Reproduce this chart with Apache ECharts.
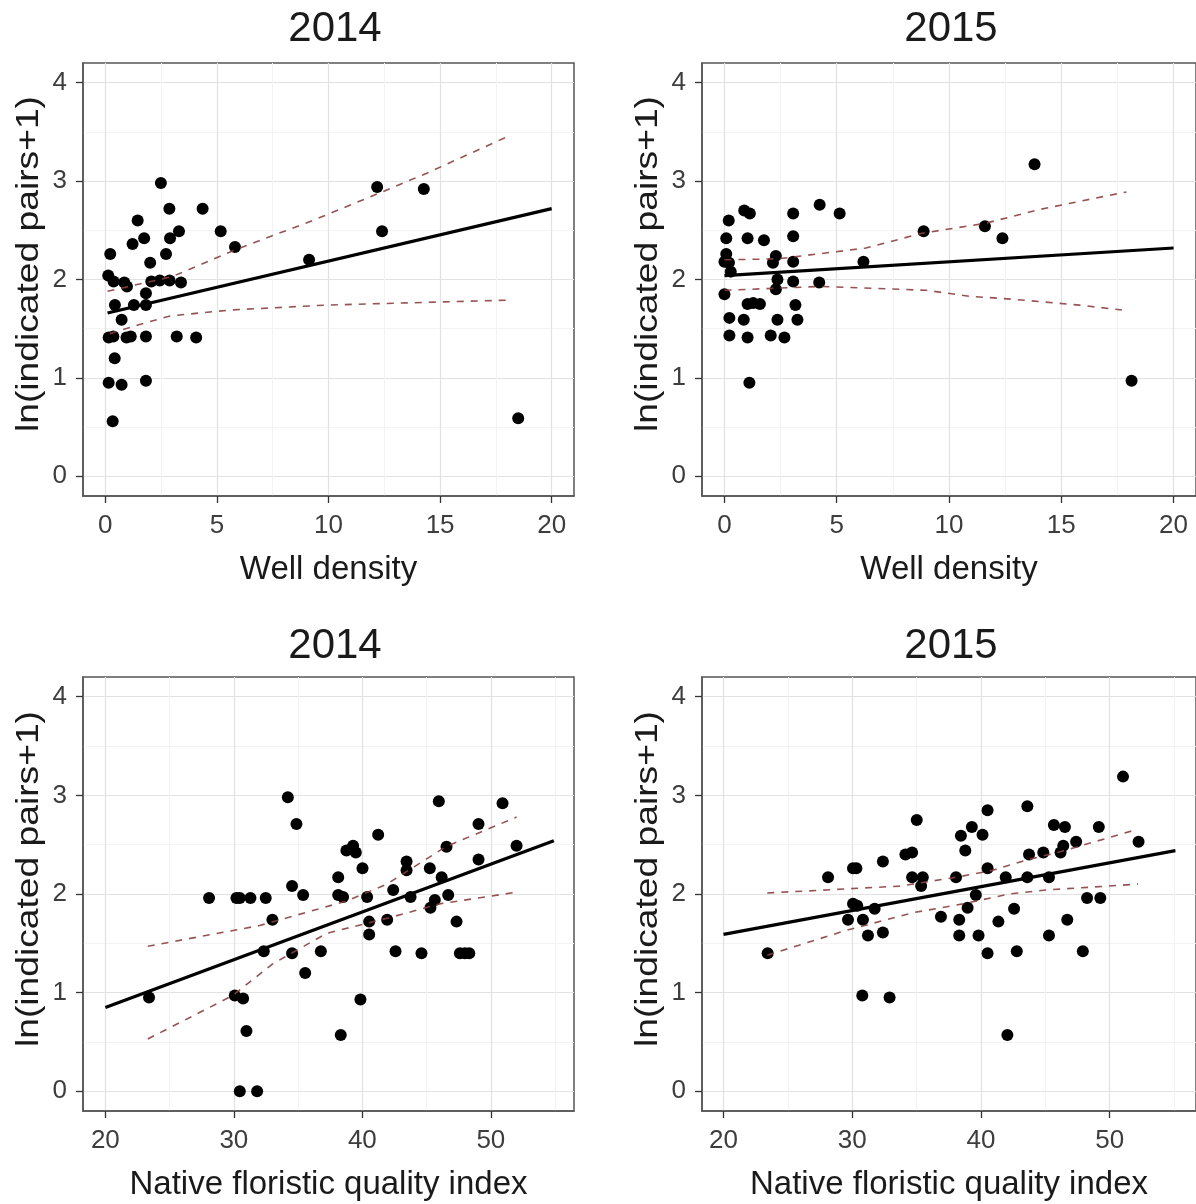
<!DOCTYPE html>
<html><head><meta charset="utf-8">
<script src="https://cdn.jsdelivr.net/npm/echarts@6/dist/echarts.min.js"></script>
<style>html,body{margin:0;padding:0;background:#fff}#c{width:1196px;height:1204px}</style>
</head><body><div id="c"></div>
<script>
// ---------- data ----------
const panelTitles = ['2014', '2015', '2014', '2015'];
const xAxisNames = ['Well density', 'Well density', 'Native floristic quality index', 'Native floristic quality index'];
const yAxisName = 'ln(indicated pairs+1)';
const wellTicks = [0, 5, 10, 15, 20];
const fqiTicks = [20, 30, 40, 50];
const yTicks = [0, 1, 2, 3, 4];

const well2014 = [[2.49,2.98],[1.45,2.60],[1.22,2.36],[1.74,2.42],[0.22,2.26],[2.87,2.72],[4.36,2.72],[2.90,2.42],[3.30,2.49],[5.17,2.49],[2.72,2.26],[5.81,2.33],[2.01,2.17],[0.13,2.04],[0.37,1.98],[0.85,1.97],[0.97,1.93],[2.06,1.98],[2.44,1.99],[2.88,1.99],[3.39,1.97],[1.82,1.86],[1.82,1.74],[0.43,1.74],[1.28,1.74],[0.73,1.59],[0.15,1.41],[0.36,1.42],[0.95,1.41],[1.14,1.42],[1.82,1.42],[3.20,1.42],[4.07,1.41],[0.42,1.20],[0.15,0.95],[0.73,0.93],[1.82,0.97],[0.33,0.56],[12.18,2.94],[14.27,2.92],[12.40,2.49],[9.13,2.20],[18.50,0.59]];
const well2015 = [[0.88,2.70],[1.13,2.67],[0.19,2.60],[3.06,2.67],[4.24,2.76],[5.13,2.67],[0.08,2.42],[1.03,2.42],[1.76,2.40],[3.06,2.44],[0.08,2.26],[0.0,2.18],[0.2,2.17],[2.29,2.24],[2.16,2.17],[3.06,2.18],[0.28,2.08],[2.36,2.00],[3.06,1.98],[4.22,1.97],[2.29,1.90],[0.0,1.85],[1.03,1.75],[1.28,1.76],[1.58,1.75],[3.16,1.74],[0.22,1.61],[0.86,1.59],[2.36,1.59],[3.25,1.59],[0.22,1.43],[1.03,1.41],[2.06,1.43],[2.67,1.41],[1.11,0.95],[6.19,2.18],[8.87,2.49],[11.60,2.54],[12.38,2.42],[13.81,3.17],[18.13,0.97]];
const fqi2014 = [[34.20,2.98],[34.87,2.71],[45.95,2.94],[50.91,2.92],[49.04,2.71],[41.23,2.60],[38.76,2.44],[39.28,2.49],[39.49,2.42],[46.55,2.48],[52.00,2.49],[49.04,2.35],[40.01,2.26],[43.44,2.33],[43.44,2.24],[45.25,2.26],[38.12,2.17],[46.17,2.17],[34.53,2.08],[28.07,1.96],[30.20,1.96],[30.46,1.96],[31.29,1.96],[32.48,1.96],[35.39,1.99],[38.12,1.99],[38.50,1.97],[40.37,1.97],[42.40,2.04],[43.75,1.97],[46.68,1.99],[45.64,1.94],[45.30,1.86],[33.00,1.74],[40.53,1.72],[41.93,1.74],[47.33,1.72],[40.53,1.59],[32.33,1.42],[34.53,1.40],[36.77,1.42],[42.58,1.42],[44.60,1.40],[47.59,1.40],[47.98,1.40],[48.32,1.40],[35.55,1.20],[23.40,0.95],[30.07,0.97],[30.72,0.94],[39.85,0.93],[30.98,0.61],[38.32,0.57],[30.46,0.00],[31.81,0.00]];
const fqi2015 = [[51.03,3.19],[43.60,2.89],[40.51,2.85],[35.01,2.75],[39.29,2.68],[45.66,2.70],[46.52,2.68],[49.15,2.68],[38.44,2.59],[40.12,2.60],[47.39,2.53],[46.39,2.49],[52.24,2.53],[38.78,2.44],[46.18,2.42],[43.73,2.40],[44.84,2.42],[34.13,2.40],[34.65,2.42],[32.38,2.33],[30.06,2.26],[30.32,2.26],[40.51,2.26],[28.12,2.17],[34.65,2.17],[35.48,2.17],[35.35,2.08],[38.06,2.17],[41.92,2.17],[43.60,2.17],[45.28,2.17],[39.60,1.99],[48.24,1.96],[49.27,1.96],[30.06,1.90],[30.39,1.88],[31.74,1.85],[42.57,1.85],[38.96,1.86],[29.67,1.74],[30.83,1.74],[36.89,1.77],[38.31,1.74],[41.35,1.72],[46.70,1.74],[31.22,1.58],[32.38,1.61],[38.31,1.58],[39.81,1.58],[45.28,1.58],[23.43,1.40],[40.51,1.40],[42.78,1.42],[47.91,1.42],[30.78,0.97],[32.90,0.95],[42.05,0.57]];

const fitWell2014 = [[0.1,1.66],[20,2.72]];
const upWell2014 = [[0.1,1.88],[3,2.03],[5.8,2.30],[9.3,2.60],[12.4,2.89],[14.4,3.08],[18,3.45]];
const loWell2014 = [[0.2,1.45],[1.5,1.54],[2.9,1.63],[5.6,1.69],[9.9,1.74],[18,1.79]];
const fitWell2015 = [[0,2.04],[20,2.32]];
const upWell2015 = [[0,2.20],[2.4,2.21],[6.3,2.32],[8.8,2.47],[11.6,2.57],[14,2.71],[17.9,2.89]];
const loWell2015 = [[0,1.89],[4.3,1.93],[9,1.89],[10.9,1.83],[12.8,1.80],[15.8,1.74],[17.7,1.69]];
const fitFqi2014 = [[20,0.85],[54.9,2.54]];
const upFqi2014 = [[23.3,1.47],[32,1.68],[38.8,1.93],[41.9,2.10],[46.5,2.48],[52,2.78]];
const loFqi2014 = [[23.3,0.53],[29.9,0.97],[33,1.29],[37.2,1.60],[42.4,1.77],[46,1.90],[52.1,2.02]];
const fitFqi2015 = [[20,1.59],[55.1,2.44]];
const upFqi2015 = [[23.4,2.01],[33.7,2.08],[38.1,2.17],[40.9,2.24],[43.7,2.35],[46.2,2.43],[52,2.65]];
const loFqi2015 = [[23.4,1.38],[29.5,1.63],[34.7,1.81],[38.6,1.90],[42.2,2.00],[45,2.04],[52.2,2.10]];

// ---------- layout ----------
const FONT = "'Liberation Sans', Arial, sans-serif";
const grids = [
  {left: 83, top: 63, width: 491, height: 433},
  {left: 702, top: 63, width: 498, height: 433},
  {left: 83, top: 677, width: 491, height: 434},
  {left: 702, top: 677, width: 496, height: 434}
];
const xRanges = [[-1, 21], [-1, 21], [18.26, 56.47], [18.33, 56.7]];
const xTickSets = [wellTicks, wellTicks, fqiTicks, fqiTicks];
const xMinorSets = [[2.5,7.5,12.5,17.5],[2.5,7.5,12.5,17.5],[25,35,45,55],[25,35,45,55]];
const yMinor = [0.5,1.5,2.5,3.5];
const titleCenters = [[330, 3], [946, 3], [330, 620], [946, 620]];
const yNamePos = [[29, 264], [648, 264], [29, 879], [648, 879]];
const pts = [well2014, well2015, fqi2014, fqi2015];
const fits = [fitWell2014, fitWell2015, fitFqi2014, fitFqi2015];
const ups = [upWell2014, upWell2015, upFqi2014, upFqi2015];
const los = [loWell2014, loWell2015, loFqi2014, loFqi2015];

const xAxes = [], yAxes = [], series = [], titles = [], graphics = [];
for (let i = 0; i < 4; i++) {
  xAxes.push({
    type: 'value', gridIndex: i, min: xRanges[i][0], max: xRanges[i][1], position: 'bottom',
    name: xAxisNames[i], nameLocation: 'middle', nameGap: 57,
    nameTextStyle: {fontSize: 33, color: '#1a1a1a', fontFamily: FONT},
    axisLine: {show: true, onZero: false, lineStyle: {color: '#555', width: 1.5}},
    axisTick: {show: true, length: 7, customValues: xTickSets[i], lineStyle: {color: '#333', width: 1.3}},
    axisLabel: {customValues: xTickSets[i], fontSize: 26, color: '#3d3d3d', margin: 17, fontFamily: FONT},
    splitLine: {show: true, lineStyle: {color: '#e2e2e2', width: 1.2}}
  });
  yAxes.push({
    type: 'value', gridIndex: i, min: -0.2, max: 4.2, position: 'left',
    axisLine: {show: true, onZero: false, lineStyle: {color: '#555', width: 1.5}},
    axisTick: {show: true, length: 7, customValues: yTicks, lineStyle: {color: '#333', width: 1.3}},
    axisLabel: {customValues: yTicks, fontSize: 26, color: '#3d3d3d', margin: 16, fontFamily: FONT},
    splitLine: {show: true, lineStyle: {color: '#e2e2e2', width: 1.2}}
  });
  titles.push({
    text: panelTitles[i], left: titleCenters[i][0], top: titleCenters[i][1], textAlign: 'center',
    textStyle: {fontSize: 42, fontWeight: 'normal', color: '#1a1a1a', fontFamily: FONT}
  });
  graphics.push({
    type: 'text', x: yNamePos[i][0], y: yNamePos[i][1], rotation: Math.PI / 2, scaleX: 1.2, silent: true,
    style: {text: yAxisName, fontSize: 31, fontFamily: FONT, fill: '#1a1a1a', align: 'center', verticalAlign: 'middle'}
  });
}
for (let i = 0; i < 4; i++) {
  xAxes.push({
    type: 'value', gridIndex: i, min: xRanges[i][0], max: xRanges[i][1], position: 'top',
    axisLine: {show: false}, axisLabel: {show: false},
    axisTick: {show: false, customValues: xMinorSets[i]},
    splitLine: {show: true, lineStyle: {color: '#f3f3f3', width: 1}}
  });
  yAxes.push({
    type: 'value', gridIndex: i, min: -0.2, max: 4.2, position: 'right',
    axisLine: {show: false}, axisLabel: {show: false},
    axisTick: {show: false, customValues: yMinor},
    splitLine: {show: true, lineStyle: {color: '#f3f3f3', width: 1}}
  });
}
const dashStyle = {color: '#8a4040', width: 1.6, type: [7, 7], opacity: 0.9};
for (let i = 0; i < 4; i++) {
  series.push({type: 'scatter', xAxisIndex: i, yAxisIndex: i, data: pts[i], symbolSize: 12,
    itemStyle: {color: '#000', opacity: 1}, z: 3, silent: true});
  series.push({type: 'line', xAxisIndex: i, yAxisIndex: i, data: fits[i], symbol: 'none',
    lineStyle: {color: '#000', width: 3.2}, z: 4, silent: true});
  series.push({type: 'line', xAxisIndex: i, yAxisIndex: i, data: ups[i], symbol: 'none',
    lineStyle: dashStyle, z: 5, silent: true});
  series.push({type: 'line', xAxisIndex: i, yAxisIndex: i, data: los[i], symbol: 'none',
    lineStyle: dashStyle, z: 5, silent: true});
}

const chart = echarts.init(document.getElementById('c'), null, {renderer: 'canvas'});
chart.setOption({
  animation: false,
  backgroundColor: '#fff',
  title: titles,
  graphic: graphics,
  grid: grids.map(g => Object.assign({show: true, borderColor: '#555', borderWidth: 1.5, backgroundColor: '#fff', containLabel: false}, g)),
  xAxis: xAxes,
  yAxis: yAxes,
  series: series
});
</script>
</body></html>
